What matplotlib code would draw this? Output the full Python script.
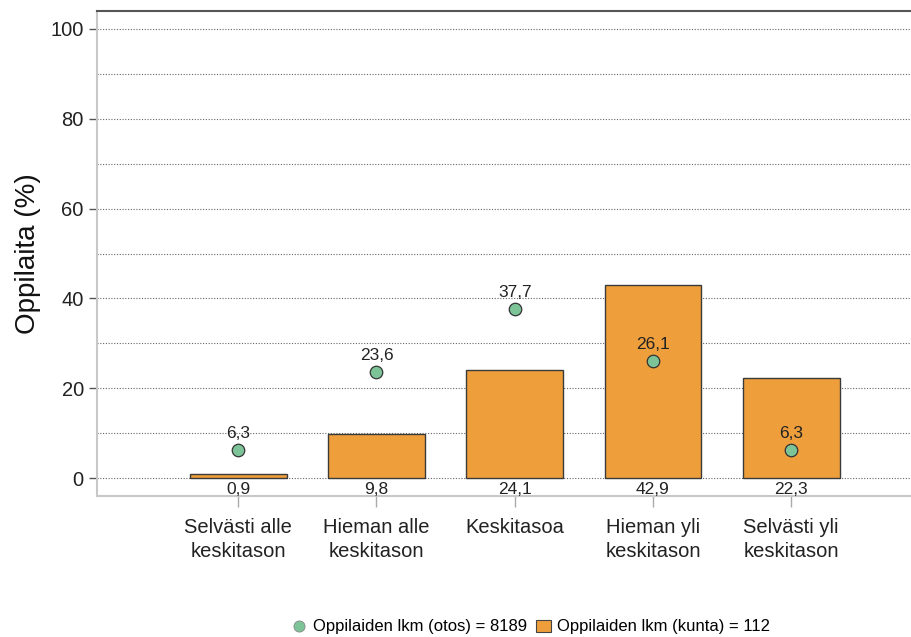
import numpy as np
import matplotlib
matplotlib.use('Agg')
import matplotlib.pyplot as plt
from matplotlib.lines import Line2D
from matplotlib.patches import Patch

plt.rcParams['font.family'] = ['Liberation Sans', 'DejaVu Sans']

categories = ['Selvästi alle\nkeskitason', 'Hieman alle\nkeskitason', 'Keskitasoa',
              'Hieman yli\nkeskitason', 'Selvästi yli\nkeskitason']
kunta_values = [0.9, 9.8, 24.1, 42.9, 22.3]
otos_values = [6.3, 23.6, 37.7, 26.1, 6.3]
y_ticks = [0, 20, 40, 60, 80, 100]
legend_labels = ['Oppilaiden lkm (otos) = 8189', 'Oppilaiden lkm (kunta) = 112']

bar_color = '#EE9F3C'
dot_color = '#7CC497'

def fmt(v):
    return f"{v:.1f}".replace('.', ',')

fig = plt.figure(figsize=(9.11, 6.37), dpi=100)
ax = fig.add_axes([97 / 911, 1 - 496 / 637, 1 - 97 / 911, (496 - 11) / 637])

x = np.arange(len(categories))

# gridlines every 10
for g in range(0, 101, 10):
    ax.axhline(g, color='#666666', lw=0.8, ls=(0, (1, 1.5)), zorder=0)

ax.bar(x, kunta_values, width=0.7, color=bar_color, edgecolor='#3a3a3a', lw=1.0, zorder=2)
ax.plot(x, otos_values, 'o', ms=9, color=dot_color, mec='#333333', mew=0.9, zorder=3)

for xi, v in zip(x, kunta_values):
    ax.annotate(fmt(v), (xi, 0), xytext=(0, -3), textcoords='offset points',
                ha='center', va='top', fontsize=12.5, color='#222222', zorder=4)
for xi, v in zip(x, otos_values):
    ax.annotate(fmt(v), (xi, v), xytext=(0, 6.5), textcoords='offset points',
                ha='center', va='bottom', fontsize=12.5, color='#222222', zorder=4)

ax.set_xlim(-1.022, 4.867)
ax.set_ylim(-4, 104)
ax.set_yticks(y_ticks)
ax.set_xticks(x)
ax.set_xticklabels(categories, fontsize=14.5, color='#222222', linespacing=1.3)
ax.tick_params(axis='y', labelsize=14.5, labelcolor='#222222', color='#555555', length=6, width=1)
ax.tick_params(axis='x', color='#aaaaaa', length=8, width=1, pad=8)
ax.set_ylabel('Oppilaita (%)', fontsize=20, color='#111111', labelpad=7)

for side in ['left', 'bottom']:
    ax.spines[side].set_color('#c8c8c8')
    ax.spines[side].set_linewidth(1.5)
ax.spines['right'].set_visible(False)
ax.spines['top'].set_color('#555555')
ax.spines['top'].set_linewidth(1.5)

handles = [Line2D([], [], marker='o', ls='', ms=8, color=dot_color, mec='#888888', mew=0.6),
           Patch(facecolor=bar_color, edgecolor='#444444', lw=0.8)]
fig.legend(handles, legend_labels, loc='center', bbox_to_anchor=(531 / 911, 1 - 627 / 637),
           ncol=2, frameon=False, fontsize=12, handlelength=0.9, handletextpad=0.4,
           columnspacing=0.5)

fig.savefig('out.png', dpi=100)
